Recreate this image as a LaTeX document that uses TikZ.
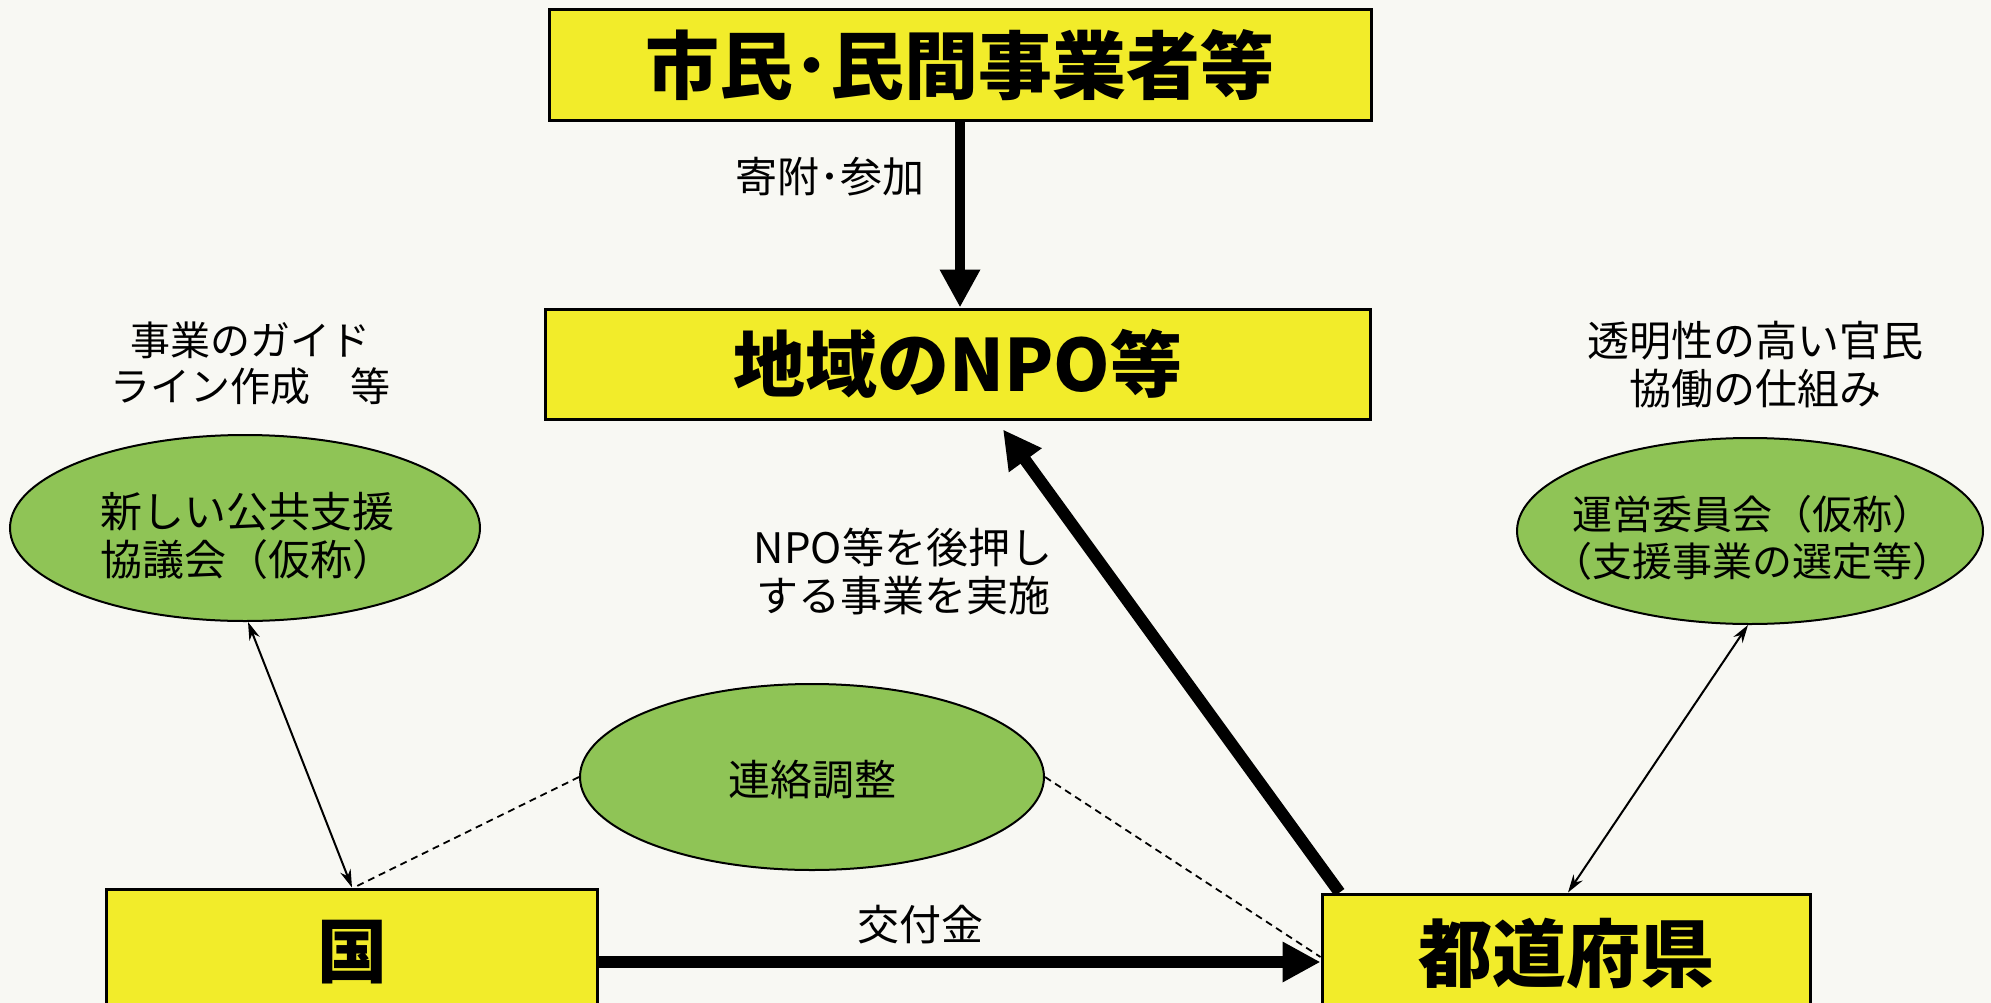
\documentclass[tikz,border=0pt]{standalone}
\usepackage{fontspec}
\setmainfont{Noto Sans CJK JP}
\usetikzlibrary{arrows.meta,shapes.geometric}
\definecolor{bgc}{RGB}{248,248,243}
\definecolor{boxy}{RGB}{242,236,42}
\definecolor{ellg}{RGB}{143,196,86}
\tikzset{
  ybox/.style={draw=black, line width=3pt, fill=boxy, inner sep=0pt, font=\bfseries\fontsize{74}{80}\selectfont},
  gell/.style={ellipse, draw=black, line width=2pt, fill=ellg, inner sep=0pt},
  lbl/.style={align=center, inner sep=0pt, font=\fontsize{42}{48}\selectfont},
  thick arrow/.style={line width=12pt, -{Triangle[length=38pt,width=38pt]}},
  thin arrow/.style={line width=2pt, {Stealth[length=18pt,width=11pt]}-{Stealth[length=18pt,width=11pt]}},
  dashline/.style={line width=1.8pt, dash pattern=on 7pt off 5pt}
}
\begin{document}
\begin{tikzpicture}[x=1pt,y=-1pt]
\useasboundingbox (0,0) rectangle (1991,1003);
\clip (0,0) rectangle (1991,1003);
\fill[bgc] (0,0) rectangle (1991,1003);

\node[ybox, minimum width=822pt, minimum height=111pt] (top) at (960,65) {市民･民間事業者等};
\node[ybox, minimum width=825pt, minimum height=110pt, font=\bfseries\fontsize{72}{78}\selectfont] (npo) at (958,364) {地域のNPO等};
\node[ybox, minimum width=491pt, minimum height=126pt, font=\bfseries\fontsize{70}{76}\selectfont] (kuni) at (352,952) {国};
\node[ybox, minimum width=488pt, minimum height=120pt] (ken) at (1566,954) {都道府県};

\node[gell, minimum width=470pt, minimum height=186pt] (ell1) at (245,528) {};
\node[lbl] (ell1t) at (247,536) {新しい公共支援\\協議会（仮称）};
\node[gell, minimum width=466pt, minimum height=186pt] (ell2) at (1750,531) {};
\node[lbl, font=\fontsize{40}{47}\selectfont] (ell2t) at (1752,538) {運営委員会（仮称）\\（支援事業の選定等）};
\node[gell, minimum width=464pt, minimum height=186pt] (mid) at (812,777) {};
\node[lbl] (midt) at (812,780) {連絡調整};

\node[lbl] (l1) at (830,177) {寄附･参加};
\node[lbl, font=\fontsize{40}{46}\selectfont] (l2) at (250,363) {事業のガイド\\ライン作成　等};
\node[lbl] (l3) at (1755,365) {透明性の高い官民\\協働の仕組み};
\node[lbl] (l4) at (903,571) {NPO等を後押し\\する事業を実施};
\node[lbl] (l5) at (920,925) {交付金};

\draw[thick arrow, line width=10pt] (top.south) -- (top.south |- npo.north);
\draw[thick arrow] ([yshift=-10pt]kuni.east) -- ([yshift=-8pt]ken.west);
\draw[thick arrow] ([xshift=19pt]ken.north west) -- ([xshift=45pt,yshift=-9pt]npo.south);
\draw[thin arrow] ([xshift=3pt]ell1.south) -- (kuni.north);
\draw[thin arrow] ([xshift=-2pt]ell2.south) -- ([xshift=2pt]ken.north);
\draw[dashline] (mid.west) -- ([xshift=2pt]kuni.north);
\draw[dashline] (mid.east) -- ([yshift=-3pt]ken.west);
\end{tikzpicture}
\end{document}
